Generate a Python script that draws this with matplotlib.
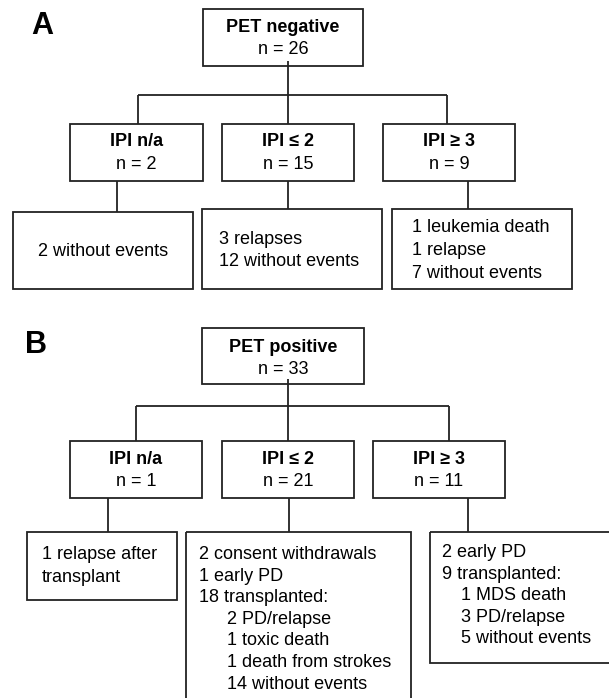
import matplotlib.pyplot as plt
from matplotlib.patches import Rectangle

plt.rcParams['font.family'] = ['Liberation Sans', 'DejaVu Sans']

# chart content
panel_labels = ["A", "B"]
root_titles = ["PET negative", "PET positive"]
root_n = [26, 33]
ipi_groups = ["IPI n/a", "IPI \u2264 2", "IPI \u2265 3"]
neg_ipi_n = [2, 15, 9]
pos_ipi_n = [1, 21, 11]
# a leading "\t" marks an indented line
neg_outcomes = [
    ["2 without events"],
    ["3 relapses", "12 without events"],
    ["1 leukemia death", "1 relapse", "7 without events"],
]
pos_outcomes = [
    ["1 relapse after", "transplant"],
    ["2 consent withdrawals", "1 early PD", "18 transplanted:",
     "\t2 PD/relapse", "\t1 toxic death", "\t1 death from strokes",
     "\t14 without events"],
    ["2 early PD", "9 transplanted:", "\t1 MDS death", "\t3 PD/relapse",
     "\t5 without events"],
]

# layout in pixels (origin top-left)
W, H = 609, 698
LC = '#222222'
LW = 1.3
FS = 13

fig = plt.figure(figsize=(W / 100, H / 100), dpi=100)
ax = fig.add_axes([0, 0, 1, 1])
ax.set_xlim(0, W)
ax.set_ylim(H, 0)
ax.axis('off')


def box(x0, x1, y0, y1):
    ax.add_patch(Rectangle((x0, y0), x1 - x0, y1 - y0, fill=False,
                           edgecolor=LC, lw=LW, clip_on=False))


def line(xs, ys):
    ax.plot(xs, ys, color=LC, lw=LW, solid_capstyle='butt')


def txt(x, y, s, bold=False, ha='center'):
    ax.text(x, y + 6, s, ha=ha, va='baseline', fontsize=FS,
            fontweight='bold' if bold else 'normal', color='black')


panels = [
    dict(label_xy=(42, 23), root=(203, 363, 9, 66), root_ty=(26, 48),
         stem_top=61, bus_y=95, bus_x=[138, 288, 447],
         lvl2=[(70, 203), (222, 354), (383, 515)], lvl2_y=(124, 181),
         lvl2_ty=(140, 163), ipi_n=neg_ipi_n, drop_x=[117, 288, 468],
         lvl3=[(13, 193, 212, 289), (202, 382, 209, 289), (392, 572, 209, 289)],
         outcomes=neg_outcomes, mode='center',
         text_x=[None, 219, 412], spacing=22.5),
    dict(label_xy=(36, 342), root=(202, 364, 328, 384), root_ty=(346, 368),
         stem_top=379, bus_y=406, bus_x=[136, 288, 449],
         lvl2=[(70, 202), (222, 354), (373, 505)], lvl2_y=(441, 498),
         lvl2_ty=(458, 480), ipi_n=pos_ipi_n, drop_x=[108, 289, 468],
         lvl3=[(27, 177, 532, 600), (186, 411, 532, 720), (430, 615, 532, 663)],
         outcomes=pos_outcomes, mode='top',
         text_x=[42, 199, 442], indent=[0, 28, 19], first_y=[553, 553, 551],
         spacing=21.6),
]

for i, p in enumerate(panels):
    ax.text(p['label_xy'][0], p['label_xy'][1] + 11, panel_labels[i],
            ha='center', va='baseline', fontsize=22, fontweight='bold')
    rx0, rx1, ry0, ry1 = p['root']
    box(rx0, rx1, ry0, ry1)
    cx = (rx0 + rx1) / 2
    txt(cx, p['root_ty'][0], root_titles[i], bold=True)
    txt(cx, p['root_ty'][1], f"n = {root_n[i]}")
    # stem and bus
    line([p['bus_x'][1], p['bus_x'][1]], [p['stem_top'], p['bus_y']])
    line([p['bus_x'][0], p['bus_x'][-1]], [p['bus_y'], p['bus_y']])
    y2a, y2b = p['lvl2_y']
    for j, (bx0, bx1) in enumerate(p['lvl2']):
        line([p['bus_x'][j], p['bus_x'][j]], [p['bus_y'], y2a])
        box(bx0, bx1, y2a, y2b)
        mx = (bx0 + bx1) / 2
        txt(mx, p['lvl2_ty'][0], ipi_groups[j], bold=True)
        txt(mx, p['lvl2_ty'][1], f"n = {p['ipi_n'][j]}")
        x0, x1, y0, y1 = p['lvl3'][j]
        line([p['drop_x'][j], p['drop_x'][j]], [y2b, y0])
        box(x0, x1, y0, y1)
        lines = p['outcomes'][j]
        sp = p['spacing']
        if p['mode'] == 'center':
            ymid = (y0 + y1) / 2
            start = ymid - sp * (len(lines) - 1) / 2
        else:
            start = p['first_y'][j]
        for k, s in enumerate(lines):
            y = start + k * sp
            if j == 0 and p['mode'] == 'top':
                y = start + k * 23
            ind = s.startswith('\t')
            s = s.lstrip('\t')
            if p['text_x'][j] is None:
                txt((x0 + x1) / 2, y, s)
            else:
                xx = p['text_x'][j] + (p['indent'][j] if ind else 0)
                txt(xx, y, s, ha='left')

fig.savefig('out.png', dpi=100)
